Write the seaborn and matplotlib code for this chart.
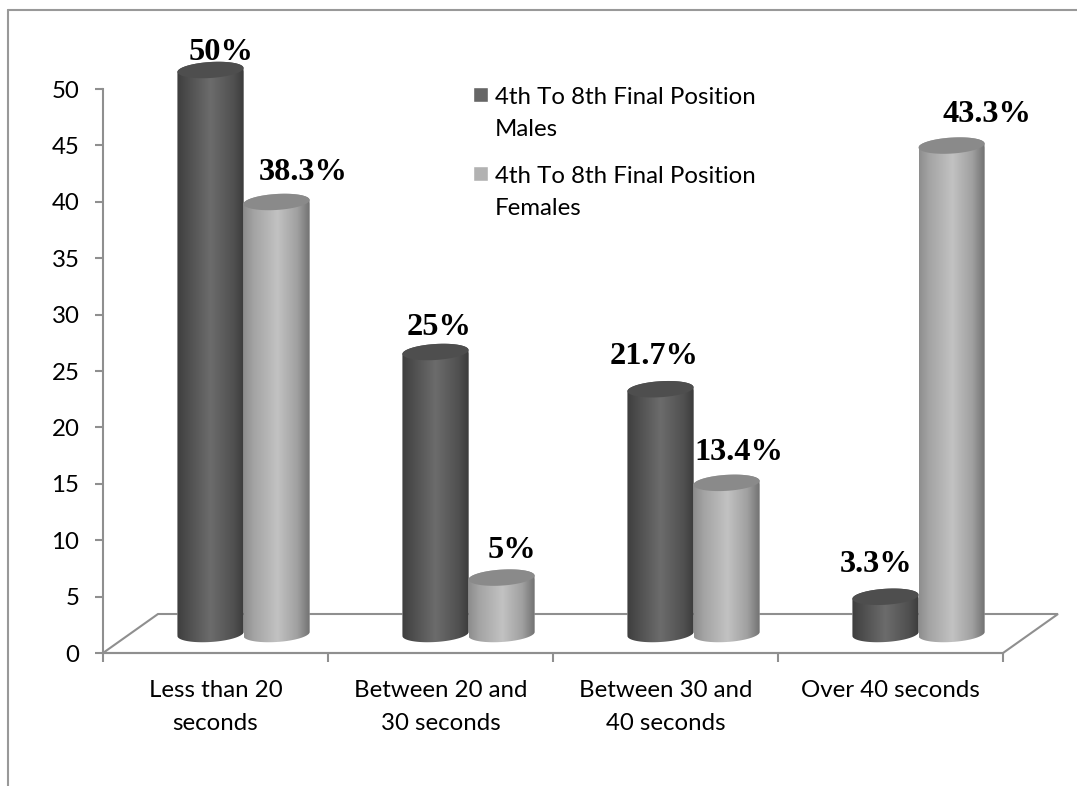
import numpy as np
import pandas as pd
import matplotlib
matplotlib.use("Agg")
import matplotlib.pyplot as plt
import seaborn as sns
from matplotlib.colors import LinearSegmentedColormap
from matplotlib.legend_handler import HandlerPatch
from matplotlib.lines import Line2D
from matplotlib.patches import Polygon, Rectangle
from matplotlib.path import Path

categories = ["Less than 20\nseconds", "Between 20 and\n30 seconds",
              "Between 30 and\n40 seconds", "Over 40 seconds"]
males = [50, 25, 21.7, 3.3]
females = [38.3, 5, 13.4, 43.3]
series_names = ["4th To 8th Final Position\nMales", "4th To 8th Final Position\nFemales"]
male_labels = ["50%", "25%", "21.7%", "3.3%"]
female_labels = ["38.3%", "5%", "13.4%", "43.3%"]

# Label offsets from the centre of each cylinder top, in pixels (dx, dy to baseline)
male_label_offsets = [(11, 10), (4, 17), (-6, 25), (-9, 25)]
female_label_offsets = [(27, 22), (10, 20), (12, 23), (35, 24)]

W, H, DPI = 1077, 786, 100
AX_L, AX_R, AX_B, AX_T = 103, 1003, 653, 89
GREY = "#8f8f8f"
FONT = "Lato"
TEXT_SIZE = 17.3

sns.set_theme(style="white")
plt.rcParams["font.family"] = [FONT, "DejaVu Sans"]

fig = plt.figure(figsize=(W / DPI, H / DPI), dpi=DPI, facecolor="white")
ax = fig.add_axes([AX_L / W, (H - AX_B) / H, (AX_R - AX_L) / W, (AX_B - AX_T) / H])
ax.patch.set_alpha(0)

df = pd.DataFrame({
    "category": categories * 2,
    "value": males + females,
    "series": [series_names[0]] * 4 + [series_names[1]] * 4,
})
sns.barplot(data=df, x="category", y="value", hue="series",
            palette=["#666666", "#b2b2b2"], width=0.587, gap=0, ax=ax, saturation=1)

ax.set_xlim(-0.5, 3.5)
ax.set_ylim(0, 50)
px_x = (AX_R - AX_L) / 4      # pixels per category
px_y = (AX_B - AX_T) / 50     # pixels per value unit

# Depth of the floor and where the cylinders stand on it
floor_dx, floor_dy = 55 / px_x, 39 / px_y
base_dx, base_dy = 28 / px_x, 19 / px_y
ell_b, ell_k = 8 / px_y, 2 / px_y

floor_x = [-0.5, 3.5, 3.5 + floor_dx, -0.5 + floor_dx, -0.5]
floor_y = [0, 0, floor_dy, floor_dy, 0]
ax.plot(floor_x, floor_y, color=GREY, lw=1.5, clip_on=False, zorder=1, solid_joinstyle="miter")

male_cmap = LinearSegmentedColormap.from_list(
    "male", [(0, "#3e3e3e"), (0.12, "#4a4a4a"), (0.5, "#6c6c6c"), (0.85, "#505050"), (1, "#3c3c3c")])
female_cmap = LinearSegmentedColormap.from_list(
    "female", [(0, "#8e8e8e"), (0.15, "#a4a4a4"), (0.5, "#c2c2c2"), (0.8, "#a0a0a0"), (1, "#6e6e6e")])
top_colors = ["#4e4e4e", "#8a8a8a"]
cmaps = [male_cmap, female_cmap]
ramp = np.linspace(0, 1, 128).reshape(1, -1)


def ellipse_arc(cx, cy, a, t0, t1):
    t = np.linspace(t0, t1, 60)
    return np.column_stack([cx + a * np.cos(t), cy + ell_b * np.sin(t) + ell_k * np.cos(t)])


z = 3
label_sets = [(male_labels, male_label_offsets), (female_labels, female_label_offsets)]
for cat in range(4):
    for s, container in enumerate(ax.containers):
        patch = container[cat]
        patch.set_x(patch.get_x() + base_dx)
        patch.set_y(base_dy)
        x0, w, h = patch.get_x(), patch.get_width(), patch.get_height()
        cx, a = x0 + w / 2, w / 2
        top = base_dy + h

        body = np.vstack([ellipse_arc(cx, base_dy, a, np.pi, 2 * np.pi),
                          ellipse_arc(cx, top, a, 0, np.pi)])
        clip = Path(np.vstack([body, body[:1]]), closed=True)

        patch.set_zorder(z)
        patch.set_clip_box(None)
        patch.set_clip_path(clip, transform=ax.transData)
        im = ax.imshow(ramp, cmap=cmaps[s], vmin=0, vmax=1, aspect="auto",
                       extent=[x0, x0 + w, base_dy - ell_b - ell_k, top + ell_b + ell_k],
                       zorder=z + 0.1, interpolation="bilinear")
        # the cylinder tops rise past the value axis, so clip to the figure and the body only
        im.set_clip_box(fig.bbox)
        im.set_clip_path(clip, transform=ax.transData)

        lid = Polygon(ellipse_arc(cx, top, a, 0, 2 * np.pi), closed=True, facecolor=top_colors[s],
                      edgecolor="none", zorder=z + 0.2, clip_on=False)
        ax.add_patch(lid)

        texts, offsets = label_sets[s]
        dx, dy = offsets[cat]
        ax.annotate(texts[cat], xy=(cx, top), xytext=(dx * 72 / DPI, dy * 72 / DPI),
                    textcoords="offset points", ha="center", va="baseline",
                    family="Liberation Serif", fontweight="bold", fontsize=23.3,
                    color="black", zorder=50, annotation_clip=False)
        z += 1

ax.set_xlim(-0.5, 3.5)
ax.set_ylim(0, 50)

# Axes: grey lines, ticks between the categories, labels centred under them
sns.despine(ax=ax)
for side in ("left", "bottom"):
    ax.spines[side].set_color(GREY)
    ax.spines[side].set_linewidth(1.5)
    ax.spines[side].set_zorder(1)
ax.set_xlabel("")
ax.set_ylabel("")
ax.set_yticks(range(0, 51, 5))
ax.tick_params(axis="y", which="major", length=6, width=1.5, color=GREY, left=True,
               direction="out", pad=11, labelsize=TEXT_SIZE, labelcolor="black")
ax.set_xticks(np.arange(-0.5, 3.6, 1))
ax.set_xticklabels([])
ax.set_xticks(range(4), categories, minor=True)
ax.tick_params(axis="x", which="major", length=6.5, width=1.5, color=GREY, bottom=True, direction="out")
ax.tick_params(axis="x", which="minor", length=0, pad=19.5, labelsize=TEXT_SIZE, labelcolor="black")
for label in ax.get_xticklabels(minor=True):
    label.set_linespacing(1.7)


def first_line_square(legend, orig_handle, xdescent, ydescent, width, height, fontsize):
    return Rectangle((0, height + 2.2), 10.8, 10.8)


handles, labels = ax.get_legend_handles_labels()
legend = ax.legend(handles, labels, loc="upper left",
                   bbox_to_anchor=(473 / W, (H - 87) / H), bbox_transform=fig.transFigure,
                   frameon=False, fontsize=TEXT_SIZE, labelspacing=1.08, borderpad=0, borderaxespad=0,
                   handlelength=0.63, handletextpad=0.29,
                   handler_map={h: HandlerPatch(patch_func=first_line_square) for h in handles})
legend.set_zorder(60)
for text in legend.get_texts():
    text.set_linespacing(1.66)
    text.set_color("black")

# Outer frame: top and left edges only
frame_kw = dict(color="#999999", lw=1.5, transform=fig.transFigure)
fig.add_artist(Line2D([8 / W, 8 / W], [0, (H - 10) / H], **frame_kw))
fig.add_artist(Line2D([8 / W, 1], [(H - 10) / H, (H - 10) / H], **frame_kw))

fig.savefig("out.png", dpi=DPI, facecolor="white")
